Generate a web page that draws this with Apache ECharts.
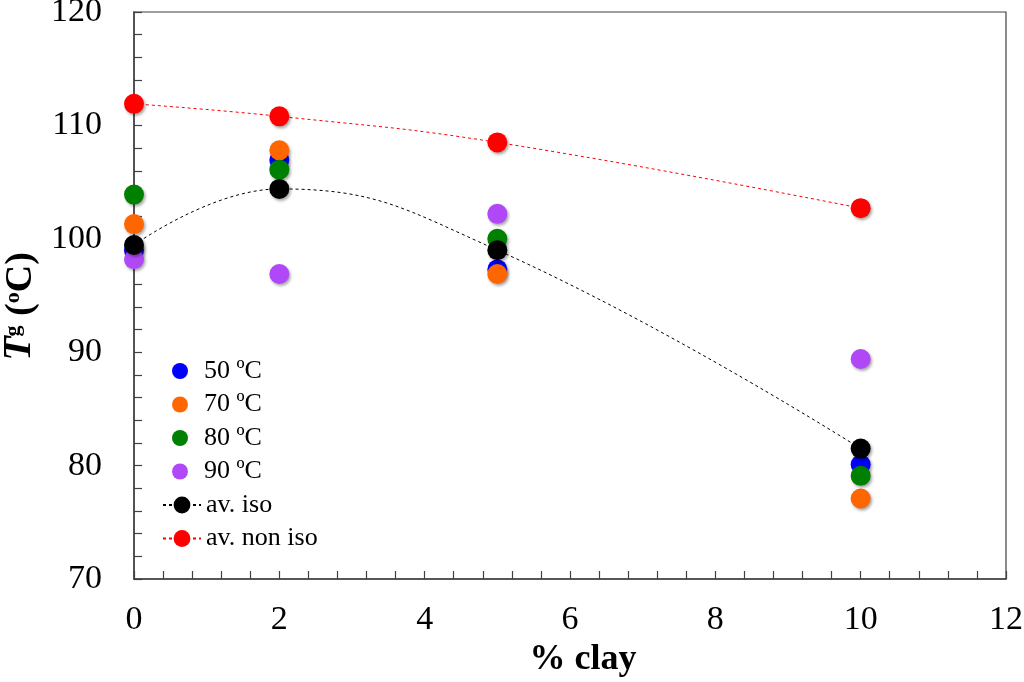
<!DOCTYPE html>
<html>
<head>
<meta charset="utf-8">
<script src="https://cdn.jsdelivr.net/npm/echarts@6/dist/echarts.min.js"></script>
<style>html,body{margin:0;padding:0;background:#fff;}#c{width:1024px;height:682px;}</style>
</head>
<body>
<div id="c"></div>
<script>
var clay = [0, 2, 5, 10];
var t50 = [99.0, 106.95, 97.3, 80.1];
var t70 = [101.3, 107.8, 96.9, 77.1];
var t80 = [103.9, 106.1, 100.0, 79.1];
var t90 = [98.2, 96.9, 102.2, 89.4];
var avIso = [99.45, 104.4, 99.0, 81.5];
var avNonIso = [111.9, 110.8, 108.5, 102.7];
var seriesNames = ['50 ºC', '70 ºC', '80 ºC', '90 ºC', 'av. iso', 'av. non iso'];
var xTicks = [0, 2, 4, 6, 8, 10, 12];
var yTicks = [70, 80, 90, 100, 110, 120];

function pairs(ys) { return clay.map(function (x, i) { return [x, ys[i]]; }); }
var FONT = '"Liberation Serif", "Times New Roman", serif';
var shadow = { opacity: 1, shadowBlur: 3, shadowColor: 'rgba(0,0,0,0.35)', shadowOffsetX: 1.5, shadowOffsetY: 2 };
function scat(name, ys, color) {
  return { name: name, type: 'scatter', data: pairs(ys), symbol: 'circle', symbolSize: 20,
    itemStyle: Object.assign({ color: color }, shadow) };
}
function trend(name, ys, color) {
  return { name: name, type: 'line', data: pairs(ys), smooth: 0.45, symbol: 'circle', symbolSize: 20,
    showSymbol: true,
    lineStyle: { color: color, width: 1, type: [3, 3] },
    itemStyle: Object.assign({ color: color }, shadow) };
}
var legendText = { fontFamily: FONT, fontSize: 26, color: '#000', lineHeight: 26 };
var chart = echarts.init(document.getElementById('c'));
chart.setOption({
  animation: false,
  backgroundColor: '#fff',
  grid: { left: 134, right: 18, top: 12, bottom: 103, containLabel: false, outerBoundsMode: 'none',
    show: true, borderColor: '#404040', borderWidth: 1.2 },
  legend: [{
    orient: 'vertical', left: 167, top: 353, itemWidth: 38, itemHeight: 16, itemGap: 7.5,
    itemTextGap: 5, data: seriesNames.slice(0, 4), textStyle: legendText
  }, {
    orient: 'vertical', left: 157, top: 487, itemWidth: 38, itemHeight: 21, itemGap: 7.5,
    itemTextGap: 5, data: seriesNames.slice(4), textStyle: legendText
  }],
  xAxis: {
    type: 'value', min: 0, max: 12, interval: 2,
    name: '% clay', nameLocation: 'middle', nameGap: 62,
    nameTextStyle: { fontFamily: FONT, fontSize: 36, fontWeight: 'bold', color: '#000', padding: [0, 0, 0, 26] },
    axisLine: { show: true, lineStyle: { color: '#404040', width: 1.5 } },
    axisTick: { show: true, inside: true, length: 8, lineStyle: { color: '#404040', width: 1.2 } },
    minorTick: { show: true, splitNumber: 5, length: 8, lineStyle: { color: '#404040', width: 1.2 } },
    splitLine: { show: false },
    axisLabel: { fontFamily: FONT, fontSize: 34, color: '#000', margin: 24,
      formatter: function (v) { return xTicks.indexOf(v) >= 0 ? String(v) : ''; } }
  },
  yAxis: {
    type: 'value', min: 70, max: 120, interval: 10,
    name: '{t|T}{g|g}{n| (}{o|o}{n|C)}{s|\u00a0}', nameLocation: 'middle', nameGap: 86, nameRotate: 90,
    nameTextStyle: {
      rich: {
        t: { fontFamily: FONT, fontSize: 40, fontWeight: 'bold', fontStyle: 'italic', color: '#000', verticalAlign: 'bottom' },
        g: { fontFamily: FONT, fontSize: 22, fontWeight: 'bold', color: '#000', verticalAlign: 'bottom', padding: [0, 0, 16, 0] },
        n: { fontFamily: FONT, fontSize: 38, fontWeight: 'bold', color: '#000', verticalAlign: 'bottom' },
        o: { fontFamily: FONT, fontSize: 22, fontWeight: 'bold', color: '#000', verticalAlign: 'bottom', padding: [0, 0, 16, 0] },
        s: { width: 22, fontSize: 38, fontFamily: FONT, verticalAlign: 'bottom' }
      }
    },
    axisLine: { show: true, lineStyle: { color: '#404040', width: 1.5 } },
    axisTick: { show: true, inside: true, length: 8, lineStyle: { color: '#404040', width: 1.2 } },
    minorTick: { show: true, splitNumber: 5, length: 8, lineStyle: { color: '#404040', width: 1.2 } },
    splitLine: { show: false },
    axisLabel: { fontFamily: FONT, fontSize: 34, color: '#000', margin: 32,
      formatter: function (v) { return yTicks.indexOf(v) >= 0 ? String(v) : ''; } }
  },
  series: [
    scat(seriesNames[0], t50, '#0000FF'),
    scat(seriesNames[1], t70, '#FF6600'),
    scat(seriesNames[2], t80, '#008000'),
    scat(seriesNames[3], t90, '#B048F8'),
    trend(seriesNames[4], avIso, '#000000'),
    trend(seriesNames[5], avNonIso, '#FF0000')
  ]
});
</script>
</body>
</html>
